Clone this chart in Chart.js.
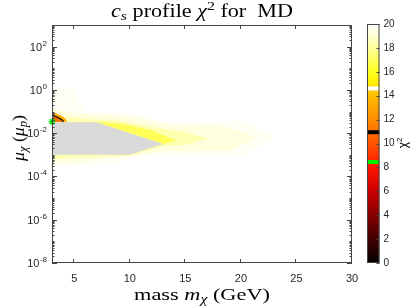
<!DOCTYPE html>
<html>
<head>
<meta charset="utf-8">
<script src="https://cdn.jsdelivr.net/npm/chart.js@4.4.0/dist/chart.umd.min.js"></script>
<style>
  html, body { margin: 0; padding: 0; background: #fff; }
  #wrap { position: relative; width: 413px; height: 308px; }
  #main { position: absolute; left: 0; top: 0; }
  #cbar { position: absolute; left: 358px; top: 0; }
</style>
</head>
<body>
<div id="wrap">
  <canvas id="main" width="413" height="308"></canvas>
  <canvas id="cbar" width="55" height="308"></canvas>
</div>
<script>
// axis ticks
const massTicks = [5, 10, 15, 20, 25, 30];
const muExponents = [2, 0, -2, -4, -6, -8];
const chi2Ticks = [0, 2, 4, 6, 8, 10, 12, 14, 16, 18, 20];

// colour scale (chi2 value -> colour)
const cmapStops = [0, 2, 4, 6, 8, 10, 12, 14, 15, 16, 18, 19, 20];
const cmapColors = ['#000000', '#420000', '#850000', '#cc0000', '#ff1400', '#ff5400', '#ff8c00',
  '#ffbc00', '#ffec00', '#ffff22', '#ffff99', '#ffffd2', '#ffffff'];

// chi2 bands, outline points as [mass GeV, log10 mu]
const bandLevels = [19.75, 19.25, 18.4, 16.9];
const band1 = [[3, 0.05], [4.8, 0.05], [6.0, -1.05], [10.3, -1.05], [13.3, -1.5], [20.2, -1.45],
  [23.1, -2.2], [20.2, -3.0], [13, -3.0], [10, -3.15], [8, -3.45], [3, -3.55]];
const band2 = [[3, -0.85], [5, -1.1], [9.5, -1.2], [13.5, -1.6], [18.5, -1.7], [21.5, -2.2],
  [19, -2.8], [13, -2.85], [9, -3.1], [6, -3.3], [3, -3.4]];
const band3 = [[3, -1.1], [6, -1.35], [9, -1.42], [12, -1.7], [15, -1.95], [17, -2.25],
  [15, -2.55], [13, -2.6], [10, -3.05], [6, -3.1], [3, -3.2]];
const band4 = [[7, -1.48], [9.5, -1.58], [12, -1.88], [14.2, -2.35], [13, -2.5], [7, -1.5]];

// low chi2 spot next to the best fit
const spotLevels = [13.5, 11];
const spotOuter = [[3, -1.0], [3.7, -1.12], [4.2, -1.28], [4.45, -1.47], [3, -1.47]];
const spotInner = [[3, -1.17], [3.5, -1.26], [3.85, -1.37], [4.05, -1.47], [3, -1.47]];
const whiteContour = [[3, -1.0], [3.7, -1.12], [4.2, -1.28], [4.45, -1.47]];
const blackContour = [[3, -1.17], [3.5, -1.26], [3.85, -1.37], [4.05, -1.47]];

// region without solutions (grey)
const noSolution = [[3, -1.5], [7, -1.5], [13, -2.5], [10, -3], [3, -3]];
const bestFit = [[3.0, -1.47]];

// marks on the colour bar: white, black, green
const cbMarks = [14.6, 10.95, 8.45];
const cbMarkColors = ['#ffffff', '#000000', '#00ee00'];

function hexRgb(h) {
  return [1, 3, 5].map(i => parseInt(h.substr(i, 2), 16));
}

function hot(v) {
  let i = 1;
  while (i < cmapStops.length - 1 && v > cmapStops[i]) i++;
  const t = (v - cmapStops[i - 1]) / (cmapStops[i] - cmapStops[i - 1]);
  const c0 = hexRgb(cmapColors[i - 1]), c1 = hexRgb(cmapColors[i]);
  return 'rgb(' + c0.map((c, k) => Math.round(c + (c1[k] - c) * t)).join(',') + ')';
}

const toPts = arr => arr.map(p => ({ x: p[0], y: Math.pow(10, p[1]) }));

function polygon(arr, color, order) {
  const pts = toPts(arr);
  pts.push(pts[0]);
  return { data: pts, fill: 'shape', backgroundColor: color, borderWidth: 0,
    pointRadius: 0, tension: 0, order: order };
}

function contour(arr, color, order) {
  return { data: toPts(arr), fill: false, borderColor: color, borderWidth: 1.2,
    pointRadius: 0, tension: 0.35, order: order };
}

// text with italic / sub / superscript pieces, optionally stretched to a width
function richText(ctx, parts, x, y, rot, width) {
  ctx.save();
  ctx.translate(x, y);
  ctx.rotate(rot || 0);
  let w = 0;
  parts.forEach(p => { ctx.font = p[1]; w += ctx.measureText(p[0]).width; });
  if (width) ctx.scale(width / w, 1);
  let cx = -w / 2;
  ctx.textAlign = 'left';
  ctx.textBaseline = 'alphabetic';
  ctx.fillStyle = '#000';
  parts.forEach(p => {
    ctx.font = p[1];
    ctx.fillText(p[0], cx, p[2] || 0);
    cx += ctx.measureText(p[0]).width;
  });
  ctx.restore();
}

const SERIF = 'Liberation Serif';
const SANS = 'Liberation Sans';

const mainFrame = {
  id: 'mainFrame',
  afterDraw(chart) {
    const { ctx, chartArea: a, scales: { x, y } } = chart;
    ctx.save();
    ctx.strokeStyle = '#444';
    ctx.lineWidth = 1;
    ctx.strokeRect(a.left + 0.5, a.top + 0.5, a.right - a.left - 1, a.bottom - a.top - 1);
    ctx.beginPath();
    massTicks.forEach(v => {
      const px = Math.round(x.getPixelForValue(v)) - 0.5;
      ctx.moveTo(px, a.bottom); ctx.lineTo(px, a.bottom - 4);
      ctx.moveTo(px, a.top); ctx.lineTo(px, a.top + 4);
    });
    for (let e = -8; e < 3; e++) {
      for (let m = 1; m < 10; m++) {
        const py = Math.round(y.getPixelForValue(m * Math.pow(10, e))) + 0.5;
        const len = (m === 1 && muExponents.includes(e)) ? 5 : 2.5;
        ctx.moveTo(a.left, py); ctx.lineTo(a.left + len, py);
        ctx.moveTo(a.right, py); ctx.lineTo(a.right - len, py);
      }
    }
    ctx.stroke();

    // y tick labels 10^k
    ctx.fillStyle = '#262626';
    muExponents.forEach(e => {
      const py = y.getPixelForValue(Math.pow(10, e));
      const ex = e < 0 ? '-' + (-e) : String(e);
      ctx.font = '8px ' + SANS;
      const ew = ctx.measureText(ex).width;
      ctx.textAlign = 'left';
      ctx.textBaseline = 'alphabetic';
      ctx.fillText(ex, 47 - ew, py - 1);
      ctx.font = '11px ' + SANS;
      ctx.textAlign = 'right';
      ctx.textBaseline = 'middle';
      ctx.fillText('10', 47 - ew - 0.5, py + 1);
    });
    ctx.restore();

    const cx = (a.left + a.right) / 2;
    richText(ctx, [
      ['c', 'italic 18px ' + SERIF], ['s', 'italic 13px ' + SERIF, 3],
      [' profile ', '18px ' + SERIF], ['\u03c7', 'italic 18px ' + SERIF],
      ['2', '13px ' + SERIF, -7], [' for  MD', '18px ' + SERIF]
    ], cx, 17, 0, 182);
    richText(ctx, [
      ['mass ', '17px ' + SERIF], ['m', 'italic 17px ' + SERIF],
      ['\u03c7', 'italic 12px ' + SERIF, 3], [' (GeV)', '17px ' + SERIF]
    ], cx, 300, 0, 136);
    richText(ctx, [
      ['\u03bc', 'italic 17px ' + SERIF], ['\u03c7', 'italic 12px ' + SERIF, 3],
      [' (', '17px ' + SERIF], ['\u03bc', 'italic 17px ' + SERIF],
      ['p', 'italic 12px ' + SERIF, 3], [')', '17px ' + SERIF]
    ], 24, 138, -Math.PI / 2, 46);
  }
};

new Chart(document.getElementById('main'), {
  type: 'line',
  data: {
    datasets: [
      polygon(band1, hot(bandLevels[0]), 20),
      polygon(band2, hot(bandLevels[1]), 19),
      polygon(band3, hot(bandLevels[2]), 18),
      polygon(band4, hot(bandLevels[3]), 17),
      polygon(spotOuter, hot(spotLevels[0]), 16),
      polygon(spotInner, hot(spotLevels[1]), 15),
      contour(whiteContour, '#ffffff', 14),
      contour(blackContour, '#000000', 13),
      polygon(noSolution, '#d9d9d9', 2),
      { data: toPts(bestFit), showLine: false, pointStyle: 'star', pointRadius: 3.5,
        pointBorderColor: '#00e000', pointBorderWidth: 1.3, clip: false, order: 0 }
    ]
  },
  options: {
    responsive: false,
    animation: false,
    events: [],
    layout: { padding: { left: 0, top: 25, right: 61, bottom: 0 } },
    plugins: { legend: { display: false }, tooltip: { enabled: false }, title: { display: false } },
    scales: {
      x: {
        type: 'linear', min: 3, max: 30,
        afterBuildTicks: s => { s.ticks = massTicks.map(v => ({ value: v })); },
        afterFit: s => { s.height = 45; },
        grid: { display: false, drawTicks: false },
        border: { display: false },
        ticks: { font: { family: SANS, size: 11 }, color: '#262626', padding: 9, maxRotation: 0, autoSkip: false }
      },
      y: {
        type: 'logarithmic', min: 1e-8, max: 1e3,
        afterFit: s => { s.width = 52; },
        grid: { display: false, drawTicks: false },
        border: { display: false },
        ticks: { display: false }
      }
    }
  },
  plugins: [mainFrame]
});

function barGradient(context) {
  const chart = context.chart;
  if (!chart.chartArea) return null;
  const ys = chart.scales.y;
  const g = chart.ctx.createLinearGradient(0, ys.getPixelForValue(0), 0, ys.getPixelForValue(20));
  cmapStops.forEach((v, i) => g.addColorStop(v / 20, cmapColors[i]));
  return g;
}

const cbFrame = {
  id: 'cbFrame',
  afterDraw(chart) {
    const { ctx, chartArea: a, scales: { y } } = chart;
    ctx.save();
    ctx.strokeStyle = '#444';
    ctx.lineWidth = 1;
    ctx.strokeRect(a.left + 0.5, a.top + 0.5, a.right - a.left - 1, a.bottom - a.top - 1);
    ctx.beginPath();
    chi2Ticks.forEach(v => {
      const py = Math.round(y.getPixelForValue(v)) + 0.5;
      ctx.moveTo(a.right, py); ctx.lineTo(a.right - 3, py);
    });
    ctx.stroke();
    ctx.restore();
    richText(ctx, [['\u03c7', '12px ' + SANS], ['2', '8px ' + SANS, -5]], 49, 143, -Math.PI / 2);
  }
};

new Chart(document.getElementById('cbar'), {
  type: 'bar',
  data: {
    labels: ['chi2'],
    datasets: [
      { data: [[0, 20]], backgroundColor: barGradient, order: 2 }
    ].concat(cbMarks.map((v, i) => ({
      data: [[v - 0.14, v + 0.14]], backgroundColor: cbMarkColors[i], order: 1
    })))
  },
  options: {
    responsive: false,
    animation: false,
    events: [],
    datasets: { bar: { grouped: false, barPercentage: 1, categoryPercentage: 1, borderWidth: 0 } },
    layout: { padding: { left: 9, top: 24, bottom: 45, right: 0 } },
    plugins: { legend: { display: false }, tooltip: { enabled: false } },
    scales: {
      x: { display: false },
      y: {
        position: 'right', min: 0, max: 20,
        afterBuildTicks: s => { s.ticks = chi2Ticks.map(v => ({ value: v })); },
        afterFit: s => { s.width = 33.5; },
        grid: { display: false, drawTicks: false },
        border: { display: false },
        ticks: { font: { family: SANS, size: 10 }, color: '#262626', padding: 4 }
      }
    }
  },
  plugins: [cbFrame]
});
</script>
</body>
</html>
